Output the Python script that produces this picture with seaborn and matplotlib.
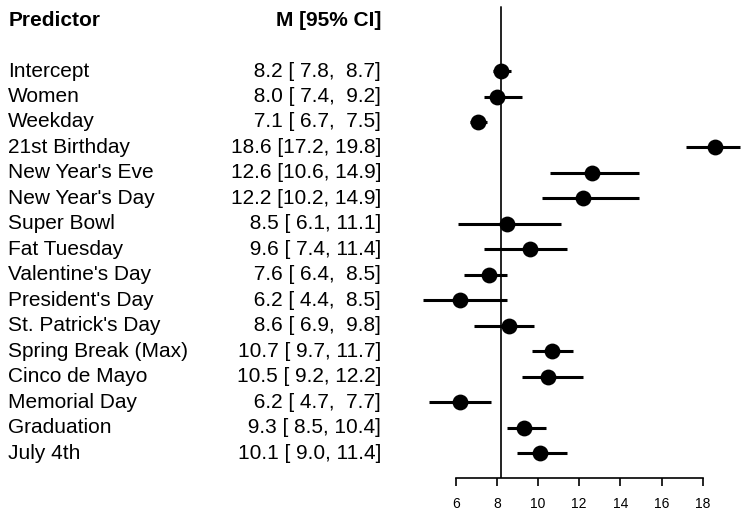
import seaborn as sns
import matplotlib.pyplot as plt
import matplotlib.transforms as mtransforms
import pandas as pd

predictors = ["Intercept", "Women", "Weekday", "21st Birthday", "New Year's Eve",
              "New Year's Day", "Super Bowl", "Fat Tuesday", "Valentine's Day",
              "President's Day", "St. Patrick's Day", "Spring Break (Max)",
              "Cinco de Mayo", "Memorial Day", "Graduation", "July 4th"]
means = [8.2, 8.0, 7.1, 18.6, 12.6, 12.2, 8.5, 9.6, 7.6, 6.2, 8.6, 10.7, 10.5, 6.2, 9.3, 10.1]
lower = [7.8, 7.4, 6.7, 17.2, 10.6, 10.2, 6.1, 7.4, 6.4, 4.4, 6.9, 9.7, 9.2, 4.7, 8.5, 9.0]
upper = [8.7, 9.2, 7.5, 19.8, 14.9, 14.9, 11.1, 11.4, 8.5, 8.5, 9.8, 11.7, 12.2, 7.7, 10.4, 11.4]
xticks = [6, 8, 10, 12, 14, 16, 18]

df = pd.DataFrame({"Predictor": predictors, "M": means, "lo": lower, "hi": upper})
df["row"] = range(len(df))

sns.set_theme(style="white")
plt.rcParams['font.family'] = ['Liberation Sans', 'DejaVu Sans']
plt.rcParams['text.color'] = 'black'
plt.rcParams['xtick.color'] = 'black'

fig = plt.figure(figsize=(7.49, 5.13), dpi=100)
ax = fig.add_axes([0.5534, 0.0682, 0.4466, 0.9318])

ax.hlines(df["row"], df["lo"], df["hi"], color="black", linewidth=2.2, zorder=2)
sns.scatterplot(data=df, x="M", y="row", color="black", s=130, edgecolor="black",
                linewidth=0, ax=ax, zorder=3, legend=False)
ax.axvline(means[0], ymin=0, ymax=0.985, color="#222222", linewidth=1.4, zorder=1)

ax.set_xlim(4.0, 20.25)
ax.set_ylim(15.98, -2.79)
ax.set_xticks(xticks)
ax.set_xticklabels([str(t) for t in xticks], fontsize=10)
ax.set_yticks([])
ax.set_xlabel("")
ax.set_ylabel("")
for s in ["top", "right", "left"]:
    ax.spines[s].set_visible(False)
ax.spines["bottom"].set_bounds(6, 18)
ax.spines["bottom"].set_color("black")
ax.spines["bottom"].set_linewidth(1.2)
ax.tick_params(axis="x", bottom=True, length=5.5, width=1.2, color="black", pad=8)

trans = mtransforms.blended_transform_factory(fig.transFigure, ax.transData)
ax.text(0.011, -2.0, "Predictor", transform=trans, fontsize=15, fontweight="bold",
        ha="left", va="center", clip_on=False)
ax.text(0.509, -2.0, "M [95% CI]", transform=trans, fontsize=15, fontweight="bold",
        ha="right", va="center", clip_on=False)
for i, row in df.iterrows():
    ax.text(0.011, row["row"], row["Predictor"], transform=trans, fontsize=15,
            ha="left", va="center", clip_on=False)
    ci = f"{row['M']:4.1f} [{row['lo']:4.1f}, {row['hi']:4.1f}]"
    ax.text(0.509, row["row"], ci, transform=trans, fontsize=15,
            ha="right", va="center", clip_on=False)

plt.savefig("out.png", dpi=100)
